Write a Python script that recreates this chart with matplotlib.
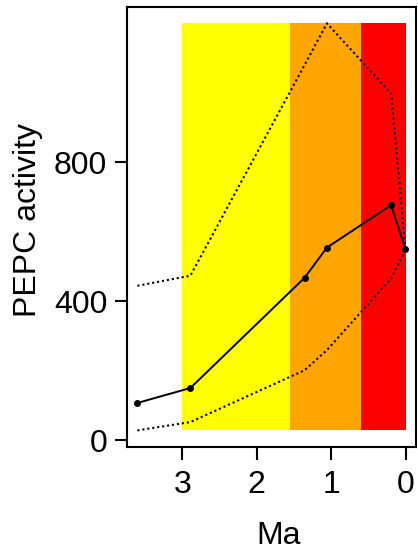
import matplotlib
matplotlib.use('Agg')
import matplotlib.pyplot as plt

plt.rcParams['font.family'] = ['Liberation Sans', 'DejaVu Sans']

# age (Ma) and PEPC activity, with the upper / lower envelopes
ma = [3.6, 2.89, 1.36, 1.06, 0.2, 0.01]
pepc = [108, 151, 468, 555, 677, 552]
upper = [445, 474, 1080, 1200, 998, 555]
lower = [29, 53, 202, 260, 466, 549]

# coloured periods (Ma)
band_edges = [(3.0, 1.55), (1.55, 0.6), (0.6, 0.0)]
band_colors = ['#FFFF00', '#FFA500', '#FF0000']

yticks = [0, 400, 800]
xticks = [3, 2, 1, 0]

fig = plt.figure(figsize=(4.18, 5.5), dpi=100)
ax = fig.add_axes([126.7 / 418, 1 - 446.7 / 550, 289.3 / 418, 439.7 / 550])

ybot, ytop = min(lower), max(upper)
for (x0, x1), c in zip(band_edges, band_colors):
    ax.fill_between([x1, x0], ybot, ytop, color=c, lw=0, zorder=1)

ax.plot(ma, upper, color='black', lw=1.5, ls=(0, (1, 1.4)), zorder=3)
ax.plot(ma, lower, color='black', lw=1.5, ls=(0, (1, 1.4)), zorder=3)
ax.plot(ma, pepc, color='black', lw=1.4, marker='o', ms=4, zorder=4)

pad_x = 0.04 * (max(ma) - min(ma))
ax.set_xlim(max(ma) + pad_x, min(ma) - pad_x)
pad_y = 0.04 * (ytop - ybot)
ax.set_ylim(ybot - pad_y, ytop + pad_y)

ax.set_xticks(xticks)
ax.set_yticks(yticks)
ax.tick_params(labelsize=23, length=9, width=1.5, pad=5)
ax.tick_params(axis='x', pad=8)
for s in ax.spines.values():
    s.set_linewidth(1.5)

fig.text(279 / 418, 1 - 544 / 550, 'Ma', fontsize=23, ha='center', va='baseline')
fig.text(28 / 418, 1 - 220 / 550, 'PEPC activity', fontsize=23, rotation=90,
         ha='center', va='center')

fig.savefig('out.png', dpi=100)
